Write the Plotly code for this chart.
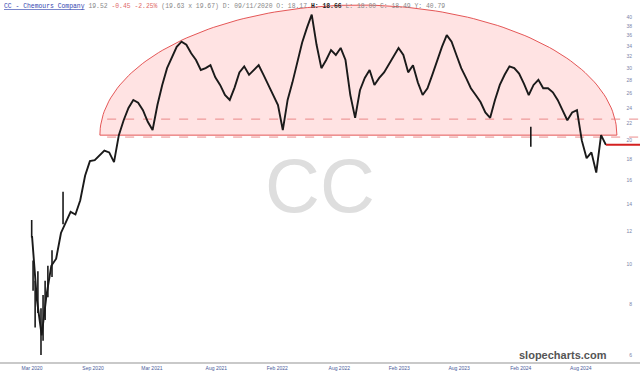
import numpy as np
import pandas as pd
import plotly.graph_objects as go

# ---------------- data ----------------
dates = pd.date_range("2020-03-06", periods=120, freq="14D")
close = [
    11.7, 8.2, 6.7, 8.4, 9.9, 10.3, 11.9, 12.6, 13.4, 13.2,
    14.3, 16.4, 17.8, 17.9, 18.4, 18.9, 18.7, 17.7, 20.6, 22.4,
    24.0, 25.1, 24.7, 23.7, 22.2, 21.2, 24.4, 27.3, 30.0, 31.9,
    33.8, 34.8, 34.2, 32.6, 31.4, 29.7, 30.0, 30.5, 28.5, 27.3,
    25.8, 25.1, 26.9, 29.3, 30.3, 28.9, 29.7, 30.5, 28.9, 27.3,
    25.8, 24.4, 21.2, 25.1, 27.7, 31.0, 34.6, 37.6, 40.5, 34.2,
    30.0, 31.4, 33.2, 32.3, 33.6, 31.4, 25.8, 22.7, 26.5, 28.4,
    29.7, 27.3, 28.4, 29.3, 30.7, 32.3, 33.6, 32.3, 29.3, 30.5,
    27.7, 25.8, 26.8, 28.9, 31.4, 33.8, 36.1, 34.8, 32.3, 30.0,
    28.4, 26.8, 25.8, 24.8, 23.4, 22.7, 25.1, 27.3, 28.9, 30.3,
    30.0, 29.1, 27.5, 25.8, 27.3, 28.1, 26.8, 26.8, 26.2, 25.1,
    23.7, 22.4, 23.4, 23.7, 20.0, 18.1, 18.7, 16.7, 20.6, 19.5,
]
# daily high/low strokes that stand out from the band
range_dates = ["2020-03-05", "2020-03-09", "2020-03-15", "2020-03-23", "2020-04-01",
               "2020-04-07", "2020-04-13", "2020-04-21", "2020-05-03", "2020-06-04",
               "2024-02-22"]
range_high = [12.8, 10.2, 9.1, 9.6, 7.8, 8.4, 9.1, 9.9, 10.8, 15.0, 21.6]
range_low = [11.6, 8.6, 7.0, 7.6, 6.0, 6.5, 7.3, 8.3, 9.3, 12.5, 19.3]

last_price = 19.52
tick_dates = ["2020-03-06", "2020-08-30", "2021-02-17", "2021-08-23", "2022-02-16",
              "2022-08-15", "2023-02-05", "2023-07-29", "2024-01-24", "2024-07-16"]
tick_labels = ["Mar 2020", "Sep 2020", "Mar 2021", "Aug 2021", "Feb 2022",
               "Aug 2022", "Feb 2023", "Aug 2023", "Feb 2024", "Aug 2024"]
y_ticks = [6, 8, 10, 12, 14, 16, 18, 20, 22, 24, 26, 28, 30, 32, 34, 36, 38, 40]

# rounded-top pattern
top_start = pd.Timestamp("2020-09-19")
top_end = pd.Timestamp("2024-10-29")
top_base = 20.6
top_peak = 42.75
dash_levels = [22.54, 20.38]
dash_start = pd.Timestamp("2020-10-10")

x_start = pd.Timestamp("2019-12-04")
x_end = pd.Timestamp("2025-01-04")

# ---------------- figure ----------------
fig = go.Figure()

t = np.linspace(0, np.pi, 120)
center = top_start + (top_end - top_start) / 2
half = (top_end - top_start) / 2
ex = [center + half * np.cos(a) for a in t]
ey = np.exp(np.log(top_base) + (np.log(top_peak) - np.log(top_base)) * np.sin(t))
fig.add_trace(go.Scatter(x=ex + [ex[0]], y=list(ey) + [ey[0]], mode="lines", fill="toself",
                         fillcolor="rgba(255,40,40,0.13)",
                         line=dict(color="rgba(225,70,70,0.9)", width=1),
                         hoverinfo="skip", showlegend=False))

for lv in dash_levels:
    fig.add_trace(go.Scatter(x=[dash_start, x_end], y=[lv, lv], mode="lines",
                             line=dict(color="rgba(230,120,120,0.85)", width=1, dash="dash"),
                             hoverinfo="skip", showlegend=False))

fig.add_trace(go.Scatter(x=dates, y=close, mode="lines",
                         line=dict(color="#1a1a1a", width=1.9), showlegend=False))

sx, sy = [], []
for d, h, l in zip(range_dates, range_high, range_low):
    sx += [d, d, None]
    sy += [h, l, None]
fig.add_trace(go.Scatter(x=sx, y=sy, mode="lines",
                         line=dict(color="#1a1a1a", width=1.6), showlegend=False))

fig.add_trace(go.Scatter(x=[dates[-1], x_end], y=[last_price, last_price], mode="lines",
                         line=dict(color="#d42020", width=2), showlegend=False))

header = ("<span style='color:#3346b0'><u>CC - Chemours Company</u></span> "
          "<span style='color:#888'>19.52</span> "
          "<span style='color:#e06a6a'>-0.45 -2.25%</span> "
          "<span style='color:#888'>(19.63 x 19.67) D: 09/11/2020 O: 18.17</span> "
          "<span style='color:#222'><b>H: 18.66</b></span> "
          "<span style='color:#888'>L: 18.00 C: 18.49 Y: 40.79</span>")

fig.update_layout(
    width=640, height=378,
    margin=dict(l=0, r=0, t=0, b=16),
    paper_bgcolor="white", plot_bgcolor="white",
    showlegend=False,
    xaxis=dict(type="date", range=[x_start, x_end], tickvals=tick_dates, ticktext=tick_labels,
               showgrid=False, zeroline=False, showline=True, linecolor="#c9c9c9", linewidth=2,
               ticks="", tickfont=dict(size=5, color="#4a5a9a", family="Liberation Sans")),
    yaxis=dict(type="log", range=[np.log10(5.77), np.log10(43.97)], side="right",
               tickvals=y_ticks, ticktext=[str(v) for v in y_ticks],
               ticklabelposition="inside", ticks="inside", ticklen=6,
               tickcolor="rgba(0,0,0,0)", showgrid=False, zeroline=False, showline=False,
               tickfont=dict(size=5, color="#7a84a8", family="Liberation Sans")),
    annotations=[
        dict(text=header, xref="paper", yref="paper", x=0, y=1, xanchor="left", yanchor="top",
             xshift=2, yshift=-1, showarrow=False,
             font=dict(family="Liberation Mono", size=6.4, color="#888")),
        dict(text="CC", xref="paper", yref="paper", x=0.5, y=(362 - 185) / 362,
             xanchor="center", yanchor="middle", showarrow=False,
             font=dict(family="Liberation Sans", size=76, color="#dedede")),
        dict(text="<b>slopecharts.com</b>", xref="paper", yref="paper", x=609 / 640,
             y=(362 - 355) / 362, xanchor="right", yanchor="middle", showarrow=False,
             font=dict(family="Liberation Sans", size=11, color="#555")),
    ],
)

fig.write_html("out.html")
